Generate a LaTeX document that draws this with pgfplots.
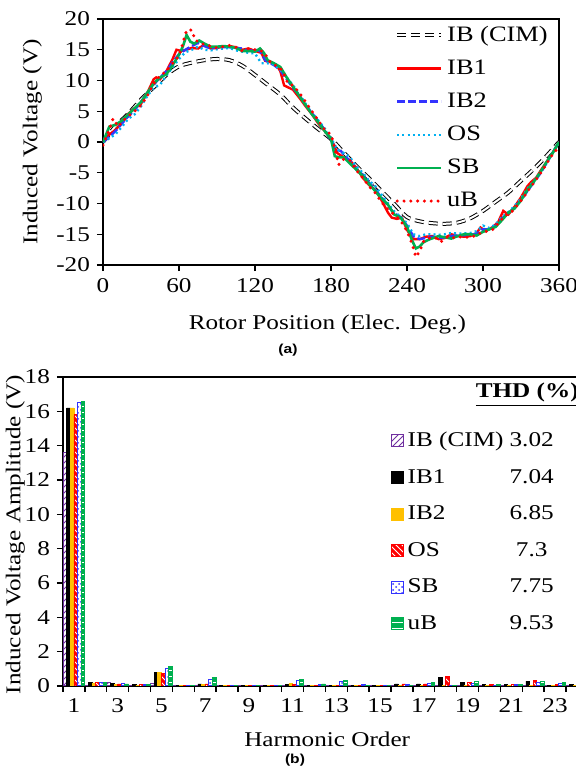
\documentclass[border=0pt]{standalone}
\usepackage{pgfplots}
\pgfplotsset{compat=1.18}
\usepackage{pgfplotstable}
\usetikzlibrary{patterns}
\usepackage{fontspec}
\setmainfont{Liberation Serif}[FakeStretch=1.2]
\setsansfont{Liberation Sans}[FakeStretch=1.2]
\definecolor{cimv}{HTML}{7030A0}
\definecolor{ibtwo}{HTML}{FFC000}
\definecolor{sbblue}{HTML}{3333FF}
\definecolor{osc}{HTML}{00B0F0}
\definecolor{sbg}{HTML}{00B050}
\pgfplotstableread{
h cim ib1 ib2 os sb ub
1 13.6 16.2 16.2 15.8 16.5 16.6
2 0.02 0.22 0.18 0.2 0.22 0.22
3 0.22 0.14 0.08 0.12 0.12 0.12
4 0.05 0.1 0.05 0.08 0.08 0.1
5 0.15 0.78 0.78 0.72 1.0 1.15
6 0.03 0.03 0.02 0.03 0.03 0.05
7 0.05 0.12 0.1 0.12 0.35 0.52
8 0.05 0.05 0.03 0.05 0.05 0.05
9 0.03 0.05 0.03 0.05 0.05 0.05
10 0.03 0.03 0.03 0.05 0.03 0.03
11 0.03 0.1 0.15 0.1 0.3 0.4
12 0.02 0.03 0.03 0.05 0.08 0.12
13 0.03 0.05 0.03 0.05 0.25 0.32
14 0.02 0.03 0.02 0.03 0.08 0.05
15 0.02 0.03 0.02 0.05 0.05 0.05
16 0.02 0.12 0.03 0.12 0.08 0.03
17 0.02 0.12 0.05 0.12 0.12 0.2
18 0.02 0.5 0.05 0.55 0.05 0.05
19 0.02 0.2 0.03 0.2 0.15 0.28
20 0.02 0.08 0.02 0.08 0.05 0.08
21 0.02 0.1 0.02 0.1 0.08 0.1
22 0.02 0.28 0.05 0.3 0.22 0.25
23 0.02 0.05 0.02 0.1 0.15 0.22
24 0.02 0.08 0.02 0.05 0.05 0.05
}\harm
\begin{document}
\begin{tikzpicture}
\useasboundingbox (0pt,0pt) rectangle (288pt,386.5pt);
\begin{axis}[
  at={(51.5pt,254pt)}, anchor=south west,
  width=228pt, height=123pt, scale only axis,
  font=\fontsize{10.5}{12.5}\selectfont,
  xmin=0, xmax=360, ymin=-20, ymax=20,
  xtick={0,60,...,360}, ytick={-20,-15,...,20},
  yticklabels={-20,-15,-10,-5,0,5,10,15,20},
  /pgf/number format/assume math mode=true,
  tick align=outside, xtick pos=bottom, ytick pos=left,
  major tick length=3pt, tick style={black, line width=0.7pt},
  axis line style={line width=0.7pt},
  xlabel={Rotor Position (Elec. Deg.)},
  ylabel={Induced Voltage (V)},
  xlabel style={at={(axis description cs:0.492,-0.24)}, anchor=center},
  ylabel style={at={(axis description cs:-0.155,0.5)}, anchor=center},
  legend style={draw=none, fill=none, at={(axis description cs:0.64,0.99)}, anchor=north west,
    font=\fontsize{11}{13}\selectfont, row sep=3.8pt, inner sep=0pt},
  legend cell align=left,
  legend image code/.code={\draw[#1] (0pt,0pt) -- (22pt,0pt);},
]
\addplot[black, line width=0.5pt, double=white, double distance=1pt, dash pattern=on 4.5pt off 2.5pt, smooth] coordinates {
(0,0)(10,2.6)(20,4.6)(30,6.9)(40,8.9)(50,10.9)(60,12.3)(70,12.9)(80,13.3)(90,13.5)(100,13.3)(110,12.4)(120,10.9)(130,9.3)(140,7.7)(150,5.6)(160,3.8)(170,2.1)(180,0.5)(190,-1.7)(200,-3.9)(210,-5.9)(220,-8)(230,-10.1)(240,-12.2)(250,-12.9)(260,-13.2)(270,-13.3)(280,-13.1)(290,-12.4)(300,-11.2)(310,-9.7)(320,-8.2)(330,-6.3)(340,-4.4)(350,-2.3)(360,0)};
\addlegendentry{IB (CIM)}
\addplot[red, line width=1.2pt] coordinates {
(0,0)(5,1.2)(10,2)(15,3.2)(20,4.6)(25,5.5)(30,6.2)(35,8)(40,10.2)(42,10.5)(45,10.2)(50,11.5)(55,13.5)(58,15)(62,14.8)(66,15)(70,15.3)(75,15.2)(80,15.8)(85,15.2)(90,15.3)(95,15.5)(100,15.6)(105,15.4)(110,15)(115,15.2)(120,14.8)(125,14.5)(128,13.2)(132,13)(137,12.5)(140,11.5)(143,9.2)(147,8.8)(150,8.5)(155,7.2)(160,5.8)(165,4.5)(170,3)(175,1.8)(180,0.5)(185,-1.8)(190,-2.5)(195,-3)(200,-4.2)(205,-5.8)(210,-7)(215,-7.8)(220,-9.5)(225,-11.5)(228,-12.3)(232,-12.5)(236,-12.3)(240,-14.3)(245,-15.8)(250,-15.8)(255,-15.4)(260,-15.3)(265,-15.8)(270,-15.6)(275,-15)(280,-15.3)(285,-15.4)(290,-15.3)(295,-14.8)(298,-13.9)(302,-14.5)(308,-13.8)(312,-13)(316,-11.2)(320,-11.8)(325,-10.5)(330,-9)(335,-7.2)(338,-6.5)(342,-5.8)(346,-4.5)(350,-3.3)(355,-1.8)(360,0)};
\addlegendentry{IB1}
\addplot[sbblue, line width=1.2pt, dash pattern=on 4pt off 1.5pt] coordinates {
(0,0)(5,0.8)(10,1.8)(15,3)(20,4.2)(25,5.2)(30,6.5)(35,8)(40,9.3)(45,10.5)(50,11.5)(55,13)(60,14.3)(65,15)(70,15.6)(75,16.1)(80,15.6)(85,15.2)(90,15.4)(100,15.4)(110,15.2)(115,14.8)(120,15)(124,14.8)(128,13.3)(135,12.5)(140,11.7)(145,10.2)(150,8.8)(155,7.6)(160,6)(165,4.7)(170,3.4)(175,2)(180,0.3)(184,-1.2)(188,-1.5)(192,-2.5)(196,-3.2)(200,-4.5)(205,-5.3)(210,-6.6)(215,-7.8)(220,-9)(225,-10.4)(230,-11.6)(235,-12.2)(240,-13.6)(245,-15.3)(250,-15.8)(255,-15.6)(260,-15.4)(265,-15.6)(270,-15.5)(275,-15.3)(280,-15.2)(290,-15.1)(295,-14.9)(300,-14.2)(305,-14.2)(310,-13.6)(315,-12.4)(320,-11.6)(325,-10.6)(330,-9.5)(335,-8)(340,-6.6)(345,-5.2)(350,-3.5)(355,-1.8)(360,0)};
\addlegendentry{IB2}
\addplot[osc, line width=1.2pt, dash pattern=on 1pt off 1.6pt] coordinates {
(0,0)(5,0.6)(10,1.3)(15,2.5)(20,3.8)(25,4.5)(30,5.8)(35,7.5)(40,8.8)(45,9.3)(50,10.8)(55,12.2)(60,13.5)(65,14.6)(70,15)(75,15.5)(80,15)(85,14.9)(90,15.1)(95,15.2)(100,15.3)(105,14.9)(110,14.7)(115,14.5)(120,14.4)(125,12.8)(130,12.8)(135,12.6)(140,11.8)(145,10.5)(150,9.2)(155,7.8)(160,6.2)(165,4.8)(170,3.5)(175,2.2)(180,0.6)(185,-1.2)(190,-1.8)(195,-2.5)(200,-4)(205,-5)(210,-6.3)(215,-7.2)(220,-8.6)(225,-10)(230,-11.3)(235,-12.2)(240,-13.2)(245,-15)(250,-15.3)(255,-15)(260,-15)(265,-15.1)(270,-15)(275,-14.8)(280,-14.9)(290,-14.8)(295,-14.5)(300,-13.6)(305,-14)(310,-13.4)(315,-12.2)(320,-11.4)(325,-10.4)(330,-9.2)(335,-7.6)(340,-6.4)(345,-5)(350,-3.4)(355,-1.7)(360,0)};
\addlegendentry{OS}
\addplot[sbg, line width=1.3pt] coordinates {
(0,0)(3,1.5)(5,2.5)(10,2.8)(15,3.5)(20,4.5)(25,5.5)(30,6.5)(35,8)(40,9.5)(45,10.5)(50,11)(55,12.5)(60,14.2)(63,15.5)(66,17.4)(69,16.3)(72,16)(76,16.5)(80,16)(85,15.5)(90,15.5)(95,15.6)(100,15.5)(105,15.3)(110,14.8)(115,14.8)(120,14.7)(124,15.2)(127,14.5)(130,13.3)(135,12.8)(140,12.2)(145,10.5)(150,9)(155,7.5)(160,6)(165,4.5)(170,3.2)(175,1.8)(180,0.5)(183,-2.3)(186,-2.5)(190,-2.5)(195,-3.5)(200,-4.5)(205,-5.5)(210,-6.8)(215,-8)(220,-9.2)(225,-10.2)(230,-11.8)(235,-12.3)(240,-13.8)(244,-16)(247,-17.3)(250,-17)(253,-16.3)(258,-15.8)(265,-15.3)(270,-15.5)(275,-15.7)(280,-15.3)(285,-15)(290,-15)(295,-15.2)(300,-14.6)(305,-14.2)(310,-13.8)(315,-12.7)(320,-11.5)(325,-10.8)(330,-9.5)(335,-7.8)(340,-6.5)(345,-5)(350,-3.3)(355,-1.8)(360,0)};
\addlegendentry{SB}
\addplot[red, line width=1.7pt, line cap=round, dash pattern=on 0pt off 3.4pt] coordinates {
(0,-0.5)(4,1.5)(8,3.8)(12,2.5)(16,3.5)(20,4.2)(25,5)(30,6)(35,7.5)(40,9.5)(45,10.8)(50,11.5)(55,12.8)(60,14)(63,16)(66,18.2)(70,18.2)(73,16.5)(76,16.3)(80,15.8)(85,15.6)(90,15.3)(95,15.5)(100,15.7)(105,15.4)(110,14.8)(115,15.2)(120,15)(125,14.8)(128,14.3)(132,13)(136,12.5)(140,12)(143,11)(146,9.5)(150,9.2)(155,8)(160,6.5)(165,5)(170,3.5)(175,2)(180,1.2)(183,-1)(186,-3.7)(190,-2.8)(195,-3)(200,-4.6)(205,-5.8)(210,-7.2)(215,-8.3)(220,-9.8)(225,-11)(230,-11.8)(235,-12.8)(240,-14.5)(244,-16.5)(247,-18.7)(250,-17.8)(253,-16.2)(258,-15.6)(262,-15.5)(267,-16.2)(272,-15.4)(278,-15.6)(283,-15.4)(288,-15.5)(293,-15.3)(298,-14.8)(303,-14.5)(308,-14.2)(312,-13.2)(317,-12)(322,-11.5)(327,-10.3)(332,-9)(337,-7.5)(341,-6.4)(345,-5.2)(350,-3.6)(355,-2)(360,-0.8)};
\addlegendentry{uB}
\end{axis}
\node[font=\sffamily\bfseries\fontsize{6.5}{8}\selectfont] at (144pt,211.5pt) {(a)};
\begin{axis}[
  at={(31.5pt,43.5pt)}, anchor=south west,
  width=256.5pt, height=154.5pt, scale only axis,
  font=\fontsize{10.5}{12.5}\selectfont,
  xmin=0.5, xmax=23.96, ymin=0, ymax=18,
  axis x line*=box, axis y line*=left,
  xtick={1,3,...,23}, ytick={0,2,...,18},
  minor xtick={0.5,1.5,...,24.5},
  /pgf/number format/assume math mode=true,
  tick align=outside, xtick pos=bottom, ytick pos=left,
  major tick length=3pt, minor tick length=3pt,
  xtick style={draw=none}, minor x tick style={draw=black, line width=0.7pt},
  ytick style={black, line width=0.7pt},
  axis line style={line width=0.7pt},
  xlabel={Harmonic Order},
  ylabel={Induced Voltage Amplitude (V)},
  xlabel style={at={(axis description cs:0.515,-0.172)}, anchor=center},
  ylabel style={at={(axis description cs:-0.093,0.49)}, anchor=center},
  ybar, bar width=0.165,
  legend style={draw=none, fill=none, at={(axis description cs:0.638,0.836)}, anchor=north west,
    font=\fontsize{10.5}{12.5}\selectfont, row sep=5.8pt, inner sep=0pt},
  legend cell align=left,
  legend image code/.code={\draw[#1] (0pt,-3pt) rectangle (6pt,3pt);},
]
\addplot[draw=cimv, line width=0.5pt, pattern=north east lines, pattern color=cimv, bar shift=-0.4125] table[x=h,y=cim] {\harm};
\addlegendentry{\makebox[46pt][l]{IB (CIM)}\makebox[32pt][c]{3.02}}
\addplot[draw=black, fill=black, line width=0.4pt, bar shift=-0.2475] table[x=h,y=ib1] {\harm};
\addlegendentry{\makebox[46pt][l]{IB1}\makebox[32pt][c]{7.04}}
\addplot[draw=ibtwo, fill=ibtwo, line width=0.4pt, bar shift=-0.0825] table[x=h,y=ib2] {\harm};
\addlegendentry{\makebox[46pt][l]{IB2}\makebox[32pt][c]{6.85}}
\addplot[draw=red, fill=red, line width=0.4pt, postaction={pattern=north west lines, pattern color=white}, bar shift=0.0825] table[x=h,y=os] {\harm};
\addlegendentry{\makebox[46pt][l]{OS}\makebox[32pt][c]{7.3}}
\addplot[draw=sbblue, line width=0.5pt, pattern=crosshatch dots, pattern color=sbblue, bar shift=0.2475] table[x=h,y=sb] {\harm};
\addlegendentry{\makebox[46pt][l]{SB}\makebox[32pt][c]{7.75}}
\addplot[draw=sbg, fill=sbg, line width=0.4pt, postaction={pattern=horizontal lines, pattern color=white}, bar shift=0.4125] table[x=h,y=ub] {\harm};
\addlegendentry{\makebox[46pt][l]{uB}\makebox[32pt][c]{9.53}}
\node[font=\bfseries\fontsize{10.5}{12}\selectfont, anchor=center] at (axis description cs:0.905,0.942) {\underline{THD (\%)}};
\end{axis}
\node[font=\sffamily\bfseries\fontsize{6.5}{8}\selectfont] at (147.5pt,6.5pt) {(b)};
\end{tikzpicture}
\end{document}
